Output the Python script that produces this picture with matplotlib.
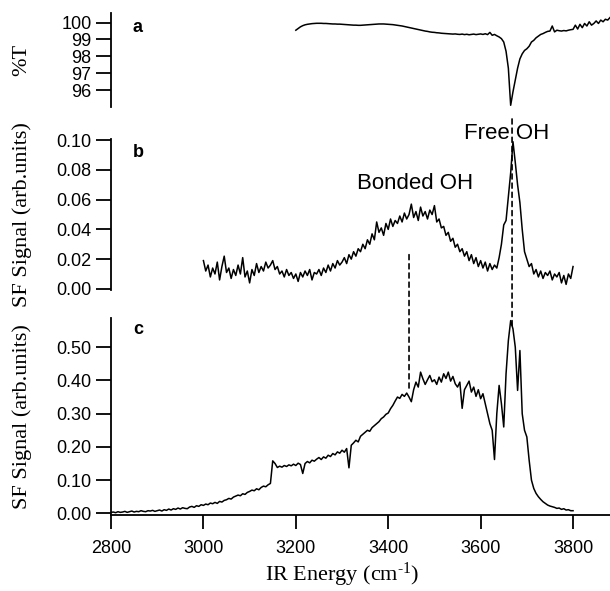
import numpy as np
import matplotlib
matplotlib.use('Agg')
import matplotlib.pyplot as plt
from matplotlib.patches import ConnectionPatch


# wavenumber grids (cm-1), 5 cm-1 steps
WN_A = np.arange(3200, 3881, 5)
WN_B = np.arange(3000, 3801, 5)
WN_C = np.arange(2800, 3801, 5)

# a: IR transmission (%T)
TRANS = [
    99.55, 99.65, 99.75, 99.82, 99.87, 99.90, 99.92, 99.94, 99.95, 99.96,
    99.96, 99.96, 99.95, 99.95, 99.94, 99.93, 99.92, 99.92, 99.91, 99.91,
    99.90, 99.89, 99.88, 99.87, 99.86, 99.85, 99.85, 99.84, 99.84, 99.85,
    99.86, 99.87, 99.88, 99.89, 99.90, 99.91, 99.92, 99.92, 99.92, 99.91,
    99.90, 99.89, 99.88, 99.86, 99.84, 99.82, 99.80, 99.77, 99.74, 99.71,
    99.68, 99.65, 99.62, 99.59, 99.56, 99.53, 99.50, 99.48, 99.45, 99.43,
    99.42, 99.40, 99.39, 99.37, 99.36, 99.35, 99.34, 99.33, 99.32, 99.33,
    99.31, 99.30, 99.32, 99.29, 99.31, 99.28, 99.30, 99.32, 99.29, 99.31,
    99.33, 99.30, 99.34, 99.29, 99.42, 99.25, 99.30, 99.22, 99.15, 99.05,
    98.85, 98.30, 97.30, 95.10, 95.90, 96.60, 97.30, 97.85, 98.15, 98.35,
    98.45, 98.60, 98.85, 98.95, 99.10, 99.20, 99.30, 99.35, 99.42, 99.48,
    99.50, 99.80, 99.45, 99.55, 99.52, 99.50, 99.53, 99.51, 99.55, 99.58,
    99.60, 99.85, 99.62, 99.90, 99.70, 99.95, 99.80, 100.05, 99.85, 99.95,
    100.10, 99.95, 100.15, 100.05, 100.20, 100.15, 100.30,
]

# b: SF signal, sample b
SF_B = [
    0.019, 0.012, 0.016, 0.008, 0.014, 0.010, 0.018, 0.006, 0.015, 0.022,
    0.011, 0.014, 0.007, 0.013, 0.009, 0.016, 0.010, 0.021, 0.008, 0.012,
    0.004, 0.013, 0.009, 0.017, 0.011, 0.015, 0.012, 0.018, 0.014, 0.016,
    0.019, 0.013, 0.015, 0.010, 0.012, 0.008, 0.013, 0.009, 0.011, 0.007,
    0.010, 0.005, 0.011, 0.008, 0.012, 0.009, 0.013, 0.006, 0.011, 0.010,
    0.013, 0.009, 0.014, 0.011, 0.016, 0.012, 0.017, 0.014, 0.019, 0.016,
    0.018, 0.021, 0.017, 0.023, 0.020, 0.025, 0.022, 0.027, 0.025, 0.030,
    0.027, 0.033, 0.030, 0.037, 0.033, 0.045, 0.038, 0.041, 0.036, 0.044,
    0.040, 0.047, 0.042, 0.046, 0.044, 0.049, 0.045, 0.051, 0.047, 0.050,
    0.057, 0.048, 0.052, 0.046, 0.055, 0.049, 0.052, 0.047, 0.053, 0.050,
    0.056, 0.045, 0.047, 0.041, 0.042, 0.036, 0.038, 0.032, 0.034, 0.028,
    0.030, 0.025, 0.027, 0.022, 0.025, 0.019, 0.023, 0.017, 0.021, 0.015,
    0.019, 0.014, 0.018, 0.012, 0.017, 0.013, 0.016, 0.014, 0.021, 0.030,
    0.043, 0.046, 0.062, 0.078, 0.099, 0.085, 0.070, 0.058, 0.040, 0.025,
    0.020, 0.015, 0.017, 0.010, 0.013, 0.008, 0.012, 0.007, 0.011, 0.009,
    0.012, 0.006, 0.010, 0.008, 0.011, 0.004, 0.009, 0.003, 0.010, 0.007,
    0.015,
]

# c: SF signal, sample c
SF_C = [
    0.003, 0.004, 0.002, 0.005, 0.003, 0.004, 0.006, 0.003, 0.005, 0.007,
    0.004, 0.006, 0.005, 0.008, 0.006, 0.005, 0.008, 0.007, 0.009, 0.006,
    0.008, 0.010, 0.007, 0.011, 0.009, 0.013, 0.010, 0.014, 0.012, 0.016,
    0.013, 0.017, 0.015, 0.014, 0.019, 0.021, 0.018, 0.023, 0.021, 0.026,
    0.024, 0.028, 0.026, 0.031, 0.029, 0.033, 0.030, 0.036, 0.034, 0.039,
    0.041, 0.045, 0.043, 0.049, 0.052, 0.055, 0.053, 0.059, 0.057, 0.063,
    0.066, 0.070, 0.068, 0.074, 0.071, 0.078, 0.082, 0.080, 0.086, 0.090,
    0.158, 0.150, 0.138, 0.142, 0.139, 0.144, 0.141, 0.146, 0.143, 0.148,
    0.144, 0.151, 0.147, 0.120, 0.150, 0.156, 0.152, 0.160, 0.157, 0.163,
    0.168, 0.162, 0.170, 0.166, 0.175, 0.171, 0.180, 0.176, 0.185, 0.181,
    0.190, 0.184, 0.195, 0.137, 0.205, 0.212, 0.220, 0.215, 0.232, 0.238,
    0.244, 0.250, 0.247, 0.258, 0.264, 0.270, 0.276, 0.285, 0.290, 0.298,
    0.302, 0.315, 0.325, 0.338, 0.350, 0.346, 0.358, 0.352, 0.362, 0.350,
    0.336, 0.372, 0.395, 0.380, 0.425, 0.405, 0.388, 0.402, 0.415, 0.396,
    0.402, 0.388, 0.410, 0.395, 0.420, 0.406, 0.425, 0.398, 0.412, 0.390,
    0.380, 0.395, 0.316, 0.372, 0.385, 0.398, 0.365, 0.380, 0.352, 0.372,
    0.345, 0.360, 0.330, 0.300, 0.270, 0.250, 0.162, 0.300, 0.385, 0.330,
    0.260, 0.420, 0.520, 0.580, 0.555, 0.500, 0.370, 0.490, 0.300, 0.250,
    0.230, 0.160, 0.100, 0.075, 0.060, 0.050, 0.042, 0.035, 0.030, 0.025,
    0.022, 0.020, 0.018, 0.015, 0.016, 0.012, 0.014, 0.010, 0.011, 0.008,
    0.008,
]

FREE_OH = 3668
BONDED_OH = 3445

SANS = 'Liberation Sans'
SERIF = 'Liberation Serif'
XLIM = (2800, 3880)
LABEL_SIZE = 16

plt.rcParams['font.family'] = SANS
plt.rcParams['font.size'] = 13
plt.rcParams['mathtext.fontset'] = 'custom'
plt.rcParams['mathtext.rm'] = SERIF
plt.rcParams['mathtext.it'] = SERIF + ':italic'


def style_axis(ax, bottom=False):
    for side in ['top', 'right']:
        ax.spines[side].set_visible(False)
    ax.spines['left'].set_linewidth(1.3)
    ax.tick_params(axis='y', direction='out', length=11, width=1.3,
                   pad=3, labelsize=13)
    if bottom:
        ax.spines['bottom'].set_linewidth(1.3)
        ax.tick_params(axis='x', direction='out', length=10, width=1.3,
                       pad=8, labelsize=13)
    else:
        ax.spines['bottom'].set_visible(False)
        ax.set_xticks([])
    ax.set_xlim(*XLIM)
    ax.patch.set_visible(False)


fig = plt.figure(figsize=(6.1, 5.91), dpi=100)
ax_a = fig.add_axes([0.182, 0.819, 0.818, 0.159])
ax_b = fig.add_axes([0.182, 0.510, 0.818, 0.254])
ax_c = fig.add_axes([0.182, 0.128, 0.818, 0.334])

ax_a.plot(WN_A, TRANS, color='black', lw=1.1)
style_axis(ax_a)
ax_a.set_ylim(95.0, 100.57)
ax_a.set_yticks([96, 97, 98, 99, 100])
ax_a.set_ylabel('%T', family=SERIF, fontsize=LABEL_SIZE, va='center')

ax_b.plot(WN_B, SF_B, color='black', lw=1.1)
style_axis(ax_b)
ax_b.set_ylim(-0.0005, 0.1005)
ax_b.set_yticks(np.arange(0, 0.101, 0.02))
ax_b.set_yticklabels(['%.2f' % v for v in np.arange(0, 0.101, 0.02)])
ax_b.set_ylabel('SF Signal (arb.units)', family=SERIF, fontsize=LABEL_SIZE,
                va='center')

ax_c.plot(WN_C, SF_C, color='black', lw=1.1)
style_axis(ax_c, bottom=True)
ax_c.set_ylim(-0.006, 0.588)
ax_c.set_yticks(np.arange(0, 0.51, 0.1))
ax_c.set_yticklabels(['%.2f' % v for v in np.arange(0, 0.51, 0.1)])
ax_c.set_xticks(np.arange(2800, 3801, 200))
ax_c.set_ylabel('SF Signal (arb.units)', family=SERIF, fontsize=LABEL_SIZE,
                va='center')
ax_c.set_xlabel('IR Energy (cm$^{\\text{-1}}$)', family=SERIF,
                fontsize=LABEL_SIZE, va='center')
ax_c.xaxis.set_label_coords((3300 - XLIM[0]) / (XLIM[1] - XLIM[0]), -0.30)

for ax in [ax_a, ax_b, ax_c]:
    ax.yaxis.set_label_coords(-0.178, 0.5)

# panel letters
for ax, letter, ypos in [(ax_a, 'a', 0.85), (ax_b, 'b', 0.91),
                         (ax_c, 'c', 0.94)]:
    ax.text(0.054, ypos, letter, transform=ax.transAxes, fontsize=13,
            fontweight='bold', ha='center', va='center')

# peak labels
ax_b.text(FREE_OH - 12, 0.1048, 'Free OH', fontsize=LABEL_SIZE, ha='center',
          va='center', clip_on=False)
ax_b.text(3457, 0.0712, 'Bonded OH', fontsize=LABEL_SIZE, ha='center',
          va='center')

# dashed guide lines across panels b and c
for xpos, ytop, ybot in [(FREE_OH, 0.1143, 0.565), (BONDED_OH, 0.023, 0.372)]:
    con = ConnectionPatch(xyA=(xpos, ytop), coordsA=ax_b.transData,
                          xyB=(xpos, ybot), coordsB=ax_c.transData,
                          linestyle=(0, (3, 2.5)), lw=1.2, color='black')
    fig.add_artist(con)

fig.savefig('out.png', dpi=100)
